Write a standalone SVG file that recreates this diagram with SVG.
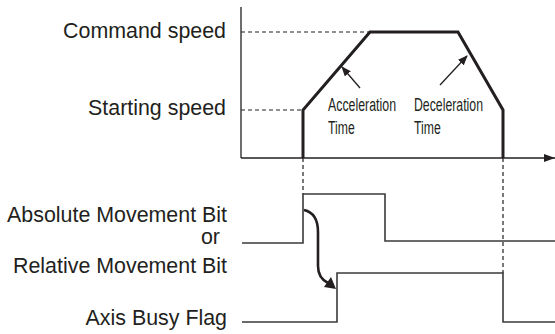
<svg xmlns="http://www.w3.org/2000/svg" width="555" height="334" viewBox="0 0 555 334">
<style>
.lbl{font-family:"Liberation Sans",Arial,sans-serif;font-size:21.4px;fill:#231f20;text-anchor:end}
.sm{font-family:"Liberation Sans",Arial,sans-serif;font-size:18px;fill:#231f20}
.axis{stroke:#231f20;stroke-width:1.3;fill:none}
.dash{stroke:#231f20;stroke-width:1.2;stroke-dasharray:4 3;fill:none}
.prof{stroke:#231f20;stroke-width:3;fill:none;stroke-linejoin:miter}
.sig{stroke:#3a3a3a;stroke-width:1.6;fill:none}
.thin{stroke:#231f20;stroke-width:1.3;fill:none}
</style>
<defs>
<marker id="ah" markerWidth="10" markerHeight="8" refX="9" refY="4" orient="auto" markerUnits="userSpaceOnUse">
<path d="M0,0 L10,4 L0,8 Z" fill="#231f20"/>
</marker>
<marker id="ax" markerWidth="11" markerHeight="8" refX="11" refY="4" orient="auto" markerUnits="userSpaceOnUse">
<path d="M0,0 L11,4 L0,8 Z" fill="#231f20"/>
</marker>
</defs>
<g id="labels">
<text class="lbl" x="226" y="38">Command speed</text>
<text class="lbl" x="226" y="115">Starting speed</text>
<text class="lbl" x="227" y="222">Absolute Movement Bit</text>
<text class="lbl" x="220" y="244">or</text>
<text class="lbl" x="227" y="273">Relative Movement Bit</text>
<text class="lbl" x="227" y="325">Axis Busy Flag</text>
</g>
<g id="axes">
<line class="axis" x1="241" y1="7" x2="241" y2="158"/>
<line class="axis" x1="241" y1="158" x2="555" y2="158" marker-end="url(#ax)"/>
</g>
<g id="guides">
<line class="dash" x1="241" y1="32" x2="370" y2="32"/>
<line class="dash" x1="241" y1="110" x2="303" y2="110"/>
<line class="dash" x1="303" y1="158" x2="303" y2="194"/>
<line class="dash" x1="503" y1="158" x2="503" y2="273"/>
</g>
<g id="speed-profile">
<path class="prof" d="M303,158 L303,110 L370,32 L458,32 L503,110 L503,158"/>
</g>
<g id="accel-label">
<text class="sm" transform="translate(328,111) scale(0.687,1)">Acceleration</text>
<text class="sm" transform="translate(328,134) scale(0.68,1)">Time</text>
</g>
<g id="decel-label">
<text class="sm" transform="translate(414,111) scale(0.683,1)">Deceleration</text>
<text class="sm" transform="translate(414,134) scale(0.68,1)">Time</text>
</g>
<g id="movement-bit">
<path class="sig" d="M242,243 L303,243 L303,194 L385,194 L385,241 L555,241"/>
</g>
<g id="axis-busy">
<path class="sig" d="M242,322 L337,322 L337,273 L503,273 L503,322 L555,322"/>
</g>
<g id="connectors">
<line class="thin" x1="360" y1="88" x2="342" y2="67" marker-end="url(#ah)"/>
<line class="thin" x1="440" y1="85" x2="467" y2="56" marker-end="url(#ah)"/>
<path d="M304,210 C313,212 318,218 318,232 L318,266 C318,274 322,280 328,283" stroke="#231f20" stroke-width="2.6" fill="none"/>
<polygon points="336,289 324,287 331,277" fill="#231f20"/>
</g>
</svg>
